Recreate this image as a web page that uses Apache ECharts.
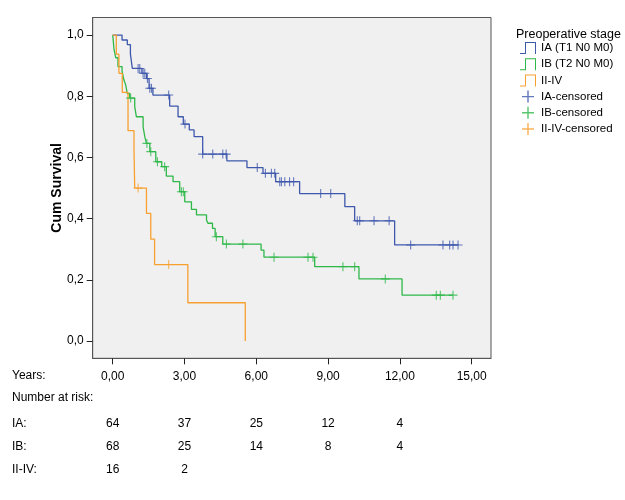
<!DOCTYPE html>
<html>
<head>
<meta charset="utf-8">
<script src="https://cdn.jsdelivr.net/npm/echarts@6/dist/echarts.min.js"></script>
<style>html,body{margin:0;padding:0;background:#fff;}#c{width:625px;height:500px;}</style>
</head>
<body>
<div id="c"></div>
<script>
// ---- Data ----
const xTicks = [0, 3, 6, 9, 12, 15];
const yTicks = [0, 0.2, 0.4, 0.6, 0.8, 1.0];

const iaTime = [0, 0.39, 0.61, 0.74, 0.82, 1.22, 1.41, 1.52, 1.68, 2.38, 2.73, 2.95, 3.2, 3.4, 3.76, 4.77, 5.61, 6.28, 6.81, 7.81, 9.70, 10.11, 11.78, 14.45];
const iaSurv = [1, 0.984, 0.969, 0.938, 0.891, 0.875, 0.858, 0.826, 0.804, 0.768, 0.733, 0.709, 0.69, 0.668, 0.611, 0.589, 0.567, 0.548, 0.521, 0.482, 0.439, 0.393, 0.314, 0.314];
const iaCensTime = [1.06, 1.13, 1.27, 1.34, 1.45, 1.55, 1.62, 2.34, 3.02, 3.76, 4.18, 4.6, 4.74, 6.04, 6.38, 6.63, 6.77, 6.98, 7.05, 7.19, 7.39, 7.56, 8.69, 9.11, 10.22, 10.32, 10.92, 11.55, 12.45, 13.8, 14.08, 14.22, 14.43];
const iaCensSurv = [0.891, 0.891, 0.875, 0.875, 0.858, 0.826, 0.826, 0.804, 0.709, 0.611, 0.611, 0.611, 0.611, 0.567, 0.548, 0.548, 0.548, 0.521, 0.521, 0.521, 0.521, 0.521, 0.482, 0.482, 0.393, 0.393, 0.393, 0.393, 0.314, 0.314, 0.314, 0.314, 0.314];

const ibTime = [0, 0.02, 0.05, 0.125, 0.22, 0.39, 0.47, 0.54, 0.61, 0.71, 0.92, 0.99, 1.27, 1.34, 1.41, 1.55, 1.80, 2.05, 2.24, 2.52, 2.80, 3.01, 3.29, 3.50, 3.92, 3.98, 4.17, 4.28, 4.6, 6.2, 6.32, 8.44, 10.29, 12.09, 14.22];
const ibSurv = [1, 0.985, 0.956, 0.926, 0.897, 0.882, 0.853, 0.838, 0.809, 0.794, 0.766, 0.733, 0.70, 0.668, 0.646, 0.619, 0.586, 0.57, 0.539, 0.521, 0.488, 0.455, 0.43, 0.412, 0.395, 0.385, 0.368, 0.341, 0.317, 0.297, 0.274, 0.243, 0.203, 0.150, 0.150];
const ibCensTime = [0.75, 1.43, 1.59, 1.87, 2.17, 2.87, 2.95, 4.33, 4.75, 5.44, 6.74, 8.16, 8.37, 9.62, 10.11, 11.39, 13.52, 13.69, 14.22];
const ibCensSurv = [0.794, 0.646, 0.619, 0.586, 0.57, 0.488, 0.488, 0.341, 0.317, 0.317, 0.274, 0.274, 0.274, 0.243, 0.243, 0.203, 0.150, 0.150, 0.150];

const ivTime = [0, 0.15, 0.26, 0.40, 0.64, 0.89, 0.92, 1.41, 1.59, 1.75, 3.14, 5.54];
const ivSurv = [1, 0.9375, 0.875, 0.8125, 0.6875, 0.625, 0.5, 0.417, 0.333, 0.25, 0.125, 0];
const ivCensTime = [1.06, 2.34];
const ivCensSurv = [0.5, 0.25];

const riskTimes = [0, 3, 6, 9, 12];
const riskIA = [64, 37, 25, 12, 4];
const riskIB = [68, 25, 14, 8, 4];
const riskIV = [16, 2];

const seriesNames = ['IA (T1 N0 M0)', 'IB (T2 N0 M0)', 'II-IV', 'IA-censored', 'IB-censored', 'II-IV-censored'];
const rowLabels = ['Years:', 'Number at risk:', 'IA:', 'IB:', 'II-IV:'];

// ---- Styling ----
const FONT = '"Liberation Sans", Arial, sans-serif';
const FS = 12;
const C_IA = '#3e58ac', C_IB = '#2eb848', C_IV = '#f7a030';
const XMIN = -0.836, XMAX = 15.807, YMIN = -0.0565, YMAX = 1.0575;
const STEP_ICON = 'path://M0,11 L5,11 L5,0 L16,0 L16,12 L15,12 L15,1 L6,1 L6,12 L0,12 Z';
const PLUS = 'path://M4.4,0 L5.6,0 L5.6,4.4 L10,4.4 L10,5.6 L5.6,5.6 L5.6,10 L4.4,10 L4.4,5.6 L0,5.6 L0,4.4 L4.4,4.4 Z';

const zip = (a, b) => a.map((v, i) => [v, b[i]]);
const comma = (v, d) => v.toFixed(d).replace('.', ',');

function stepSeries(name, t, s, color) {
  return { name, type: 'line', step: 'end', data: zip(t, s), showSymbol: false, symbol: 'none',
    lineStyle: { color, width: 1.3 }, itemStyle: { color }, xAxisIndex: 0, yAxisIndex: 0, animation: false, z: 3 };
}
function censSeries(name, t, s, color) {
  return { name, type: 'scatter', data: zip(t, s), symbol: PLUS, symbolSize: [9, 9],
    itemStyle: { color }, xAxisIndex: 0, yAxisIndex: 0, animation: false, z: 4 };
}
function riskAxis(times, vals, margin) {
  return { type: 'value', gridIndex: 0, position: 'bottom', min: XMIN, max: XMAX,
    axisLine: { show: false, onZero: false }, axisTick: { show: false }, splitLine: { show: false },
    axisLabel: { customValues: times, margin, color: '#000', fontFamily: FONT, fontSize: FS,
      formatter: v => { const i = times.indexOf(v); return i >= 0 ? String(vals[i]) : ''; } } };
}

const chart = echarts.init(document.getElementById('c'), null, { renderer: 'canvas' });
chart.setOption({
  backgroundColor: '#ffffff',
  animation: false,
  textStyle: { fontFamily: FONT },
  title: { text: 'Preoperative stage', left: 511, top: 23, textStyle: { fontSize: 12.5, fontWeight: 'normal', color: '#000', fontFamily: FONT } },
  legend: {
    orient: 'vertical', left: 515, top: 37, itemWidth: 16, itemHeight: 12, itemGap: 4.2,
    textStyle: { fontSize: 11.5, color: '#000', fontFamily: FONT },
    selectedMode: false,
    data: [
      { name: seriesNames[0], icon: STEP_ICON, itemStyle: { color: C_IA } },
      { name: seriesNames[1], icon: STEP_ICON, itemStyle: { color: C_IB } },
      { name: seriesNames[2], icon: STEP_ICON, itemStyle: { color: C_IV } },
      { name: seriesNames[3], icon: PLUS, itemStyle: { color: C_IA } },
      { name: seriesNames[4], icon: PLUS, itemStyle: { color: C_IB } },
      { name: seriesNames[5], icon: PLUS, itemStyle: { color: C_IV } }
    ]
  },
  grid: { left: 92.7, right: 134, top: 17.5, bottom: 141.7, show: true, backgroundColor: '#f0f0f0', borderColor: '#555', borderWidth: 1 },
  xAxis: [
    { type: 'value', gridIndex: 0, position: 'bottom', min: XMIN, max: XMAX,
      axisLine: { show: true, onZero: false, lineStyle: { color: '#555', width: 1 } },
      axisTick: { show: true, customValues: xTicks, length: 6, lineStyle: { color: '#222', width: 1 } },
      axisLabel: { customValues: xTicks, margin: 12, color: '#000', fontFamily: FONT, fontSize: FS, formatter: v => comma(v, 2) },
      splitLine: { show: false } },
    riskAxis(riskTimes, riskIA, 59),
    riskAxis(riskTimes, riskIB, 82),
    riskAxis(riskTimes.slice(0, riskIV.length), riskIV, 105)
  ],
  yAxis: [{
    type: 'value', min: YMIN, max: YMAX, name: 'Cum Survival', nameLocation: 'middle', nameGap: 29, nameMoveOverlap: false,
    nameTextStyle: { fontSize: 14, fontWeight: 'bold', color: '#000', fontFamily: FONT },
    axisLine: { show: true, onZero: false, lineStyle: { color: '#555' } },
    axisTick: { show: true, customValues: yTicks, length: 6, lineStyle: { color: '#222' } },
    axisLabel: { customValues: yTicks, margin: 9, color: '#000', fontFamily: FONT, fontSize: FS, formatter: v => comma(v, 1) },
    splitLine: { show: false }
  }],
  graphic: rowLabels.map((t, i) => ({
    type: 'text', left: 12, top: [369.5, 392, 418, 441, 464][i],
    style: { text: t, fill: '#000', font: FS + 'px ' + FONT }
  })),
  series: [
    stepSeries(seriesNames[0], iaTime, iaSurv, C_IA),
    stepSeries(seriesNames[1], ibTime, ibSurv, C_IB),
    stepSeries(seriesNames[2], ivTime, ivSurv, C_IV),
    censSeries(seriesNames[3], iaCensTime, iaCensSurv, C_IA),
    censSeries(seriesNames[4], ibCensTime, ibCensSurv, C_IB),
    censSeries(seriesNames[5], ivCensTime, ivCensSurv, C_IV)
  ]
});
</script>
</body>
</html>
